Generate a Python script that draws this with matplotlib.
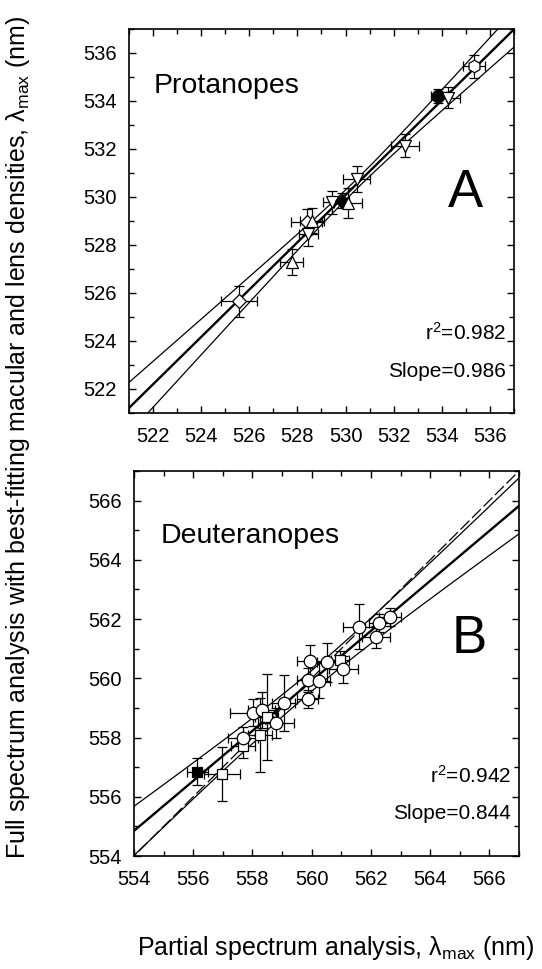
import numpy as np
import matplotlib
matplotlib.use("Agg")
import matplotlib.pyplot as plt
from matplotlib.ticker import MultipleLocator

plt.rcParams['font.family'] = ['Liberation Sans', 'DejaVu Sans']
plt.rcParams['mathtext.fontset'] = 'custom'
plt.rcParams['mathtext.rm'] = 'Liberation Sans'
plt.rcParams['mathtext.it'] = 'Liberation Sans:italic'

# Panel A - protanopes (partial vs full spectrum lambda max)
prot_x = [525.57, 527.76, 528.39, 528.59, 528.45, 529.42, 529.84, 530.11, 530.46, 532.47, 533.86, 534.27, 535.35]
prot_y = [525.65, 527.29, 528.95, 529.02, 528.45, 529.78, 529.85, 529.76, 530.75, 532.13, 534.21, 534.14, 535.45]
prot_xerr = [0.75, 0.48, 0.65, 0.50, 0.40, 0.35, 0.30, 0.59, 0.57, 0.57, 0.30, 0.50, 0.45]
prot_yerr = [0.66, 0.55, 0.55, 0.50, 0.50, 0.48, 0.30, 0.62, 0.55, 0.48, 0.30, 0.44, 0.48]
prot_marker = ['D', '^', 'D', '^', 'v', 'v', 'D', '^', 'v', 'v', 'o', 'v', 'h']
prot_filled = [0, 0, 0, 0, 0, 0, 1, 0, 0, 0, 1, 0, 0]
prot_slope, prot_icpt = 0.986, 7.504
prot_r2 = 0.982
prot_band = (530.5, 0.20, 0.11)   # centre, half-width at centre, growth

# Panel B - deuteranopes
deut_x = [556.14, 556.98, 557.69, 557.69, 558.26, 558.03, 558.31, 558.48, 558.80, 559.05,
          559.86, 559.89, 560.26, 559.95, 560.53, 560.96, 561.07, 561.61, 562.29, 562.65, 562.18]
deut_y = [556.85, 556.77, 557.72, 557.97, 558.09, 558.84, 558.93, 558.70, 558.50, 559.16,
          559.29, 559.95, 559.92, 560.57, 560.54, 560.62, 560.30, 561.75, 561.88, 562.08, 561.41]
deut_xerr = [0.35, 0.60, 0.40, 0.50, 0.40, 0.80, 0.45, 0.40, 0.60, 0.40,
             0.35, 0.40, 0.35, 0.45, 0.35, 0.30, 0.48, 0.55, 0.35, 0.37, 0.47]
deut_yerr = [0.45, 0.90, 0.40, 0.40, 1.25, 0.45, 0.60, 1.45, 0.50, 0.95,
             0.30, 0.40, 0.60, 0.55, 0.65, 0.30, 0.45, 0.75, 0.30, 0.30, 0.37]
deut_marker = ['s', 's', 's', 'o', 's', 'o', 'o', 's', 'o', 'o',
               'o', 'o', 'o', 'o', 'o', 's', 'o', 'o', 'o', 'o', 'o']
deut_filled = [1] + [0] * 20
deut_slope, deut_icpt = 0.844, 87.274
deut_r2 = 0.942
deut_band = (560.0, 0.35, 0.125)


def draw_panel(ax, xs, ys, xe, ye, mk, filled, slope, icpt, band, lims, name, name_pos,
               letter, letter_pos, r2, identity=False):
    lo, hi = lims
    xx = np.linspace(lo - 1, hi + 1, 200)
    fit = slope * xx + icpt
    xm, a, b = band
    w = np.sqrt(a ** 2 + (b * (xx - xm)) ** 2)
    if identity:
        ax.plot(xx, xx, color='black', lw=0.9, dashes=(10, 3), zorder=1)
    ax.plot(xx, fit, color='black', lw=1.7, zorder=2)
    ax.plot(xx, fit + w, color='black', lw=0.9, zorder=2)
    ax.plot(xx, fit - w, color='black', lw=0.9, zorder=2)

    for i in range(len(xs)):
        ms = 7 if mk[i] == 'D' else 9
        if mk[i] == 's':
            ms = 7.5
        ax.errorbar(xs[i], ys[i], xerr=xe[i], yerr=ye[i], fmt=mk[i], ms=ms,
                    mfc='black' if filled[i] else 'white', mec='black', mew=0.9,
                    ecolor='black', elinewidth=0.9, capsize=3.5, capthick=0.9, zorder=3)

    ax.set_xlim(lo, hi)
    ax.set_ylim(lo, hi)
    for axis in (ax.xaxis, ax.yaxis):
        axis.set_major_locator(MultipleLocator(2))
        axis.set_minor_locator(MultipleLocator(1))
    ax.tick_params(which='both', direction='in', top=True, right=True, width=1.0)
    ax.tick_params(which='major', length=5)
    ax.tick_params(which='minor', length=3.5)
    ax.tick_params(axis='x', which='major', labelsize=14.5, pad=10)
    ax.tick_params(axis='y', which='major', labelsize=14.5, pad=9)
    for s in ax.spines.values():
        s.set_linewidth(1.2)

    ax.text(name_pos[0], name_pos[1], name, transform=ax.transAxes, fontsize=20.5,
            ha='left', va='center')
    ax.text(letter_pos[0], letter_pos[1], letter, transform=ax.transAxes, fontsize=38,
            ha='center', va='center')
    ax.text(0.98, 0.19, r'r$^{2}$=%.3f' % r2, transform=ax.transAxes, fontsize=15,
            ha='right', va='baseline')
    ax.text(0.98, 0.095, 'Slope=%.3f' % slope, transform=ax.transAxes, fontsize=15,
            ha='right', va='baseline')


fig = plt.figure(figsize=(5.42, 9.69), dpi=100)
axA = fig.add_axes([0.238, 0.5738, 0.7103, 0.3963])
axB = fig.add_axes([0.2472, 0.1166, 0.7103, 0.3973])

draw_panel(axA, prot_x, prot_y, prot_xerr, prot_yerr, prot_marker, prot_filled,
           prot_slope, prot_icpt, prot_band, (521, 537), 'Protanopes', (0.065, 0.852),
           'A', (0.873, 0.573), prot_r2)
draw_panel(axB, deut_x, deut_y, deut_xerr, deut_yerr, deut_marker, deut_filled,
           deut_slope, deut_icpt, deut_band, (554, 567), 'Deuteranopes', (0.07, 0.832),
           'B', (0.87, 0.564), deut_r2, identity=True)

fig.text(0.033, 0.549, r'Full spectrum analysis with best-fitting macular and lens densities, λ$_{\rm max}$ (nm)',
         rotation=90, ha='center', va='center', fontsize=18)
fig.text(0.62, 0.022, r'Partial spectrum analysis, λ$_{\rm max}$ (nm)',
         ha='center', va='center', fontsize=18)

fig.savefig('out.png', dpi=100)
